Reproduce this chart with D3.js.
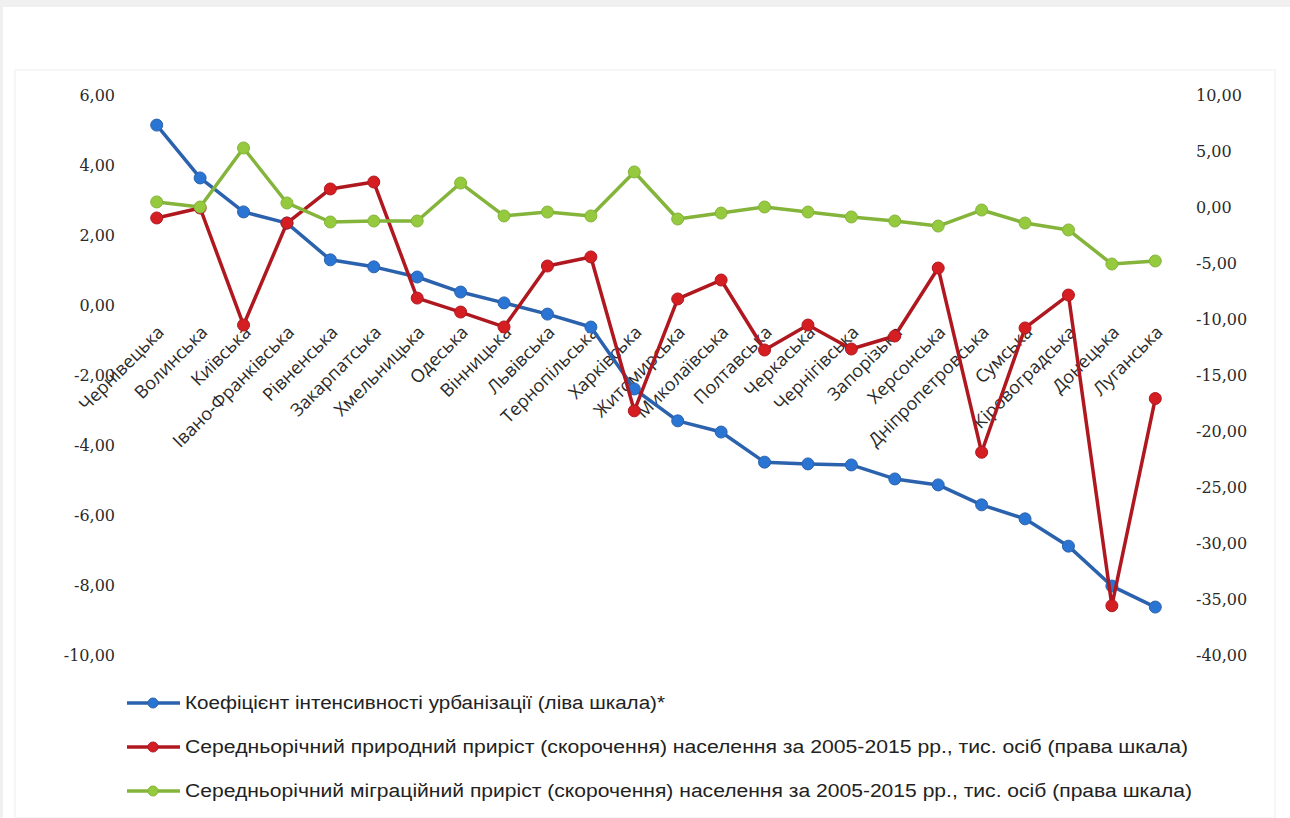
<!DOCTYPE html>
<html>
<head>
<meta charset="utf-8">
<script src="https://cdn.jsdelivr.net/npm/d3@7"></script>
<style>
  body { margin: 0; background: #ffffff; }
  svg { display: block; }
</style>
</head>
<body>
<div id="chart"></div>
<script>
// Chart data
var regions = ["Чернівецька", "Волинська", "Київська", "Івано-Франківська", "Рівненська",
  "Закарпатська", "Хмельницька", "Одеська", "Вінницька", "Львівська", "Тернопільська",
  "Харківська", "Житомирська", "Миколаївська", "Полтавська", "Черкаська", "Чернігівська",
  "Запорізька", "Херсонська", "Дніпропетровська", "Сумська", "Кіровоградська", "Донецька", "Луганська"];

// left scale
var urbanization = [5.14, 3.63, 2.66, 2.34, 1.29, 1.09, 0.80, 0.37, 0.06, -0.26, -0.63,
  -2.40, -3.31, -3.63, -4.49, -4.54, -4.57, -4.97, -5.14, -5.71, -6.11, -6.89, -8.03, -8.63];

// right scale
var naturalGrowth = [-0.98, -0.09, -10.54, -1.43, 1.61, 2.23, -8.13, -9.38, -10.71, -5.27, -4.46,
  -18.2, -8.21, -6.52, -12.77, -10.54, -12.68, -11.52, -5.45, -21.9, -10.8, -7.86, -35.6, -17.1];

var migrationGrowth = [0.45, 0.0, 5.27, 0.36, -1.34, -1.25, -1.25, 2.14, -0.80, -0.45, -0.80,
  3.13, -1.07, -0.54, 0.0, -0.45, -0.89, -1.25, -1.70, -0.27, -1.43, -2.05, -5.09, -4.82];

var leftTicks = [6, 4, 2, 0, -2, -4, -6, -8, -10];
var rightTicks = [10, 5, 0, -5, -10, -15, -20, -25, -30, -35, -40];

var legendLabels = [
  "Коефіцієнт інтенсивності урбанізації (ліва шкала)*",
  "Середньорічний природний приріст (скорочення) населення за 2005-2015 рр., тис. осіб (права шкала)",
  "Середньорічний міграційний приріст (скорочення) населення за 2005-2015 рр., тис. осіб (права шкала)"
];

var svgWidth = 1290;
var svgHeight = 818;

var margin = { top: 95, right: 113, bottom: 163, left: 135 };
var width = svgWidth - margin.left - margin.right;
var height = svgHeight - margin.top - margin.bottom;

var svg = d3.select("#chart")
  .append("svg")
  .attr("width", svgWidth)
  .attr("height", svgHeight);

// page frame
svg.append("rect").attr("width", svgWidth).attr("height", svgHeight).attr("fill", "#f0f0f0");
svg.append("rect").attr("x", 3).attr("y", 7).attr("width", svgWidth - 3).attr("height", svgHeight - 7)
  .attr("fill", "#ffffff");
svg.append("rect").attr("x", 15).attr("y", 70).attr("width", svgWidth - 30).attr("height", svgHeight - 70)
  .attr("fill", "none").attr("stroke", "#f6f6f6").attr("stroke-width", 2);

var chartGroup = svg.append("g")
  .attr("transform", `translate(${margin.left}, ${margin.top})`);

var locale = d3.formatLocale({ decimal: ",", thousands: " ", grouping: [3], currency: ["", ""], minus: "-" });
var fmt = locale.format(".2f");

var xScale = d3.scalePoint()
  .domain(regions)
  .range([0, width])
  .padding(0.5);

var yLeft = d3.scaleLinear().domain([-10, 6]).range([height, 0]);
var yRight = d3.scaleLinear().domain([-40, 10]).range([height, 0]);

// axes (no lines, only labels)
var leftAxis = d3.axisLeft(yLeft).tickValues(leftTicks).tickFormat(fmt).tickSize(0).tickPadding(20);
var rightAxis = d3.axisRight(yRight).tickValues(rightTicks).tickFormat(fmt).tickSize(0).tickPadding(19);

var gl = chartGroup.append("g").call(leftAxis);
var gr = chartGroup.append("g").attr("transform", `translate(${width}, 0)`).call(rightAxis);
[gl, gr].forEach(function (g) {
  g.select(".domain").remove();
  g.selectAll("text")
    .style("font-family", "'DejaVu Serif', 'Liberation Serif', serif")
    .style("font-size", "16px")
    .attr("fill", "#2a2a2a");
});

// category labels, rotated
chartGroup.append("g")
  .selectAll("text")
  .data(regions)
  .enter()
  .append("text")
  .attr("transform", d => `translate(${xScale(d) + 4}, ${yLeft(0) + 24}) rotate(-45)`)
  .attr("text-anchor", "end")
  .attr("dy", "0.35em")
  .style("font-family", "'Open Sans', 'Noto Sans', sans-serif")
  .style("font-size", "18px")
  .attr("fill", "#2a2a2a")
  .text(d => d);

var series = [
  { values: urbanization, scale: yLeft, line: "#2b62ad", dot: "#2a74d4" },
  { values: naturalGrowth, scale: yRight, line: "#b01820", dot: "#d41e22" },
  { values: migrationGrowth, scale: yRight, line: "#84b43a", dot: "#95c93e" }
];

series.forEach(function (s) {
  var line = d3.line()
    .x((d, i) => xScale(regions[i]))
    .y(d => s.scale(d));

  chartGroup.append("path")
    .datum(s.values)
    .attr("d", line)
    .attr("fill", "none")
    .attr("stroke", s.line)
    .attr("stroke-width", 3.5)
    .attr("stroke-linejoin", "round");

  chartGroup.append("g")
    .selectAll("circle")
    .data(s.values)
    .enter()
    .append("circle")
    .attr("cx", (d, i) => xScale(regions[i]))
    .attr("cy", d => s.scale(d))
    .attr("r", 6)
    .attr("fill", s.dot)
    .attr("stroke", s.line)
    .attr("stroke-width", 1);
});

// legend
var legendWidths = [480, 1003, 1007];
var legend = svg.append("g").attr("transform", "translate(127, 703)");
series.forEach(function (s, i) {
  var row = legend.append("g").attr("transform", `translate(0, ${i * 44})`);
  row.append("line").attr("x1", 0).attr("x2", 53).attr("y1", 0).attr("y2", 0)
    .attr("stroke", s.line).attr("stroke-width", 3.5);
  row.append("circle").attr("cx", 26).attr("cy", 0).attr("r", 5)
    .attr("fill", s.dot).attr("stroke", s.line);
  row.append("text")
    .attr("x", 58)
    .attr("y", 0)
    .attr("dy", "0.35em")
    .attr("textLength", legendWidths[i])
    .attr("lengthAdjust", "spacingAndGlyphs")
    .style("font-family", "'Liberation Sans Narrow', 'Liberation Sans', sans-serif")
    .style("font-size", "18px")
    .attr("fill", "#222")
    .text(legendLabels[i]);
});
</script>
</body>
</html>
